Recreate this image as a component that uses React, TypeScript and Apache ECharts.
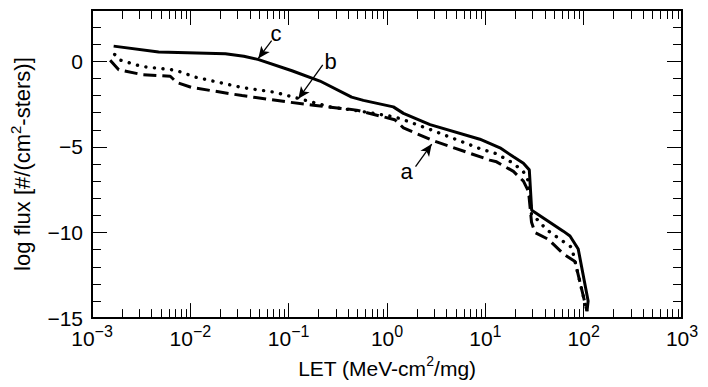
import { useEffect, useRef } from 'react';
import * as echarts from 'echarts';

// ---- data (LET in MeV-cm2/mg, log flux) ----
const LET_C = [0.00166, 0.00476, 0.0227, 0.035, 0.0495, 0.108, 0.208, 0.437, 0.575, 1.16, 1.47, 2.74, 8.8, 14.1, 19.3, 24.4, 28.0, 29.6, 62, 72.6, 88, 111, 108];
const FLUX_C = [0.89, 0.55, 0.45, 0.3, 0.1, -0.55, -1.15, -2.09, -2.28, -2.66, -3.04, -3.7, -4.55, -5.05, -5.58, -5.96, -6.34, -8.7, -9.92, -10.2, -10.96, -14.0, -14.6];

const LET_B = [0.0017, 0.00195, 0.0032, 0.0065, 0.0076, 0.0112, 0.0336, 0.073, 0.13, 0.263, 0.574, 1.16, 1.47, 2.74, 8.8, 13, 19.3, 24.4, 27.5, 29.5, 34, 42, 49, 75.5, 108];
const FLUX_B = [0.4, 0.07, -0.3, -0.49, -0.58, -0.92, -1.53, -1.81, -2.19, -2.66, -2.94, -3.23, -3.41, -3.98, -5.1, -5.4, -5.96, -6.45, -7.0, -9.0, -9.26, -9.83, -10.11, -10.87, -14.6];

const LET_A = [0.00153, 0.00187, 0.0032, 0.00625, 0.0073, 0.0104, 0.0336, 0.1, 0.178, 0.49, 1.2, 1.47, 2.96, 11.1, 13, 19.3, 24.4, 27.5, 29.5, 32, 43.8, 62, 81.7, 108];
const FLUX_A = [0.07, -0.49, -0.77, -0.87, -1.24, -1.53, -2.0, -2.38, -2.56, -2.85, -3.41, -3.89, -4.64, -5.77, -5.87, -6.43, -7.0, -7.6, -9.4, -10.0, -10.4, -11.24, -11.7, -14.6];

// annotations (data coordinates)
const NOTE_TEXT = ['a', 'b', 'c'];
const NOTE_AT = [[1.585, -6.45], [0.267, -0.02], [0.0745, 1.62]];
const ARROW_FROM = [[1.95, -6.15], [0.222, -0.21], [0.0671, 1.21]];
const ARROW_TO = [[2.85, -4.83], [0.1253, -2.19], [0.0491, 0.17]];

// axis ticks
const X_MIN = 0.001;
const X_MAX = 1000;
const Y_MIN = -15;
const Y_MAX = 3;
const DECADES = [0.001, 0.01, 0.1, 1, 10, 100];
const MULTIPLES = [2, 3, 4, 5, 6, 7, 8, 9];
const MINOR_X_TICKS = DECADES.flatMap((d) => MULTIPLES.map((m) => +(d * m).toPrecision(3)));

const FONT = "'Liberation Sans', Arial, Helvetica, sans-serif";
const MINUS = '\u2212';

const zip = (xs: number[], ys: number[]) => xs.map((x, i) => [x, ys[i]]);
const fmtExp = (n: number) => (n < 0 ? MINUS + Math.abs(n) : String(n));

export default function App() {
  const ref = useRef<HTMLDivElement>(null);

  useEffect(() => {
    if (!ref.current) return;
    const chart = echarts.init(ref.current, undefined, { renderer: 'svg' });

    const xAxisBase = (position: 'bottom' | 'top', showLabel: boolean) => ({
      type: 'log',
      logBase: 10,
      min: X_MIN,
      max: X_MAX,
      splitNumber: 6,
      position,
      axisLine: { show: true, onZero: false, lineStyle: { color: '#000', width: 2 } },
      axisTick: { show: true, inside: true, length: 15, lineStyle: { color: '#000', width: 1 } },
      splitLine: { show: false },
      minorTick: { show: false },
      axisLabel: showLabel
        ? {
            margin: 5,
            formatter: (v: number) => `{b|10}{s|${fmtExp(Math.round(Math.log10(v)))}}`,
            rich: {
              b: { fontFamily: FONT, fontSize: 21, color: '#000', lineHeight: 26, verticalAlign: 'bottom' },
              s: { fontFamily: FONT, fontSize: 16, color: '#000', lineHeight: 8, verticalAlign: 'top' },
            },
          }
        : { show: false },
    });

    const yAxisBase = (
      position: 'left' | 'right',
      interval: number,
      tickLen: number,
      showLabel: boolean,
    ) => ({
      type: 'value',
      min: Y_MIN,
      max: Y_MAX,
      interval,
      position,
      axisLine: { show: true, onZero: false, lineStyle: { color: '#000', width: 2 } },
      axisTick: { show: true, inside: true, length: tickLen, lineStyle: { color: '#000', width: 1 } },
      splitLine: { show: false },
      axisLabel: showLabel
        ? {
            margin: 9,
            fontFamily: FONT,
            fontSize: 21,
            color: '#000',
            formatter: (v: number) => (v % 5 === 0 ? (v < 0 ? MINUS + Math.abs(v) : String(v)) : ''),
          }
        : { show: false },
    });

    const annotation = (i: number) => ({
      silent: true,
      symbol: ['none', 'arrow'],
      symbolSize: 11,
      symbolKeepAspect: false,
      precision: 4,
      itemStyle: { color: '#000' },
      label: { show: false },
      emphasis: { disabled: true },
      lineStyle: { color: '#000', width: 1.3, type: 'solid', opacity: 1 },
      data: [
        [
          { coord: ARROW_FROM[i], symbol: 'none' },
          { coord: ARROW_TO[i], symbol: 'arrow', symbolSize: [8, 12], itemStyle: { color: '#000' } },
        ],
      ],
    });
    const letter = (i: number) => ({
      silent: true,
      symbol: 'circle',
      symbolSize: 1,
      itemStyle: { color: 'rgba(0,0,0,0)' },
      label: {
        show: true,
        position: 'inside',
        formatter: NOTE_TEXT[i],
        fontFamily: FONT,
        fontSize: 22,
        color: '#000',
      },
      data: [{ coord: NOTE_AT[i] }],
    });

    const option: any = {
      animation: false,
      grid: { left: 92, right: 26, top: 10, bottom: 59, containLabel: false },
      xAxis: [
        {
          ...xAxisBase('bottom', true),
          name: 'LET (MeV-cm{s|2}/mg)',
          nameLocation: 'middle',
          nameGap: 32,
          nameTextStyle: {
            fontFamily: FONT,
            fontSize: 21,
            color: '#000',
            lineHeight: 28,
            rich: { s: { fontFamily: FONT, fontSize: 14, color: '#000', lineHeight: 20, verticalAlign: 'top' } },
          },
        },
        xAxisBase('top', false),
      ],
      yAxis: [
        {
          ...yAxisBase('left', 5, 15, true),
          name: 'log flux [#/(cm{s|2}-sters)]',
          nameLocation: 'middle',
          nameRotate: 90,
          nameGap: 49,
          nameTextStyle: {
            fontFamily: FONT,
            fontSize: 22,
            color: '#000',
            lineHeight: 28,
            rich: { s: { fontFamily: FONT, fontSize: 15, color: '#000', lineHeight: 20, verticalAlign: 'top' } },
          },
        },
        yAxisBase('left', 1, 9, false),
        yAxisBase('right', 5, 15, false),
        yAxisBase('right', 1, 9, false),
      ],
      series: [
        {
          name: 'minor ticks',
          type: 'custom',
          xAxisIndex: 0,
          yAxisIndex: 0,
          silent: true,
          clip: false,
          data: MINOR_X_TICKS.map((v) => [v, Y_MIN]),
          encode: { x: 0, y: 1 },
          renderItem: (_p: any, api: any) => {
            const v = api.value(0);
            const pb = api.coord([v, Y_MIN]);
            const pt = api.coord([v, Y_MAX]);
            const x = Math.round(pb[0]) + 0.5;
            return {
              type: 'group',
              children: [
                { type: 'line', shape: { x1: x, y1: pb[1], x2: x, y2: pb[1] - 9 }, style: { stroke: '#000', lineWidth: 1 } },
                { type: 'line', shape: { x1: x, y1: pt[1], x2: x, y2: pt[1] + 9 }, style: { stroke: '#000', lineWidth: 1 } },
              ],
            };
          },
        },
        {
          name: 'a',
          type: 'line',
          color: '#000',
          data: zip(LET_A, FLUX_A),
          showSymbol: false,
          symbol: 'none',
          lineStyle: { color: '#000', width: 3, type: [13, 6] },
          markLine: annotation(0),
          markPoint: letter(0),
        },
        {
          name: 'b',
          type: 'line',
          color: '#000',
          data: zip(LET_B, FLUX_B),
          showSymbol: false,
          symbol: 'none',
          lineStyle: { color: '#000', width: 3.4, type: [0.1, 8.5], cap: 'round' },
          markLine: annotation(1),
          markPoint: letter(1),
        },
        {
          name: 'c',
          type: 'line',
          color: '#000',
          data: zip(LET_C, FLUX_C),
          showSymbol: false,
          symbol: 'none',
          lineStyle: { color: '#000', width: 3 },
          markLine: annotation(2),
          markPoint: letter(2),
        },
      ],
    };

    chart.setOption(option);
    return () => chart.dispose();
  }, []);

  return <div ref={ref} style={{ width: 708, height: 387, position: 'absolute', left: 0, top: 0 }} />;
}
